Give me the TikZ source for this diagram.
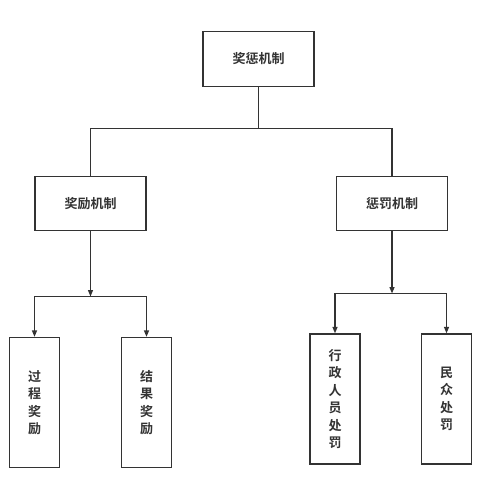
\documentclass[tikz,border=0pt]{standalone}
\usepackage{fontspec}
\newfontfamily\cjk{Noto Sans CJK SC}[BoldFont={Noto Sans CJK SC Bold}]
\usetikzlibrary{arrows.meta,positioning}
\definecolor{linegray}{HTML}{333333}

\tikzset{
  box/.style={draw=linegray, line width=1.3pt, fill=white, text=linegray,
    minimum width=111pt, minimum height=54.5pt, inner sep=0pt,
    font=\cjk\bfseries\fontsize{13}{17.5}\selectfont},
  tallbox/.style={box, minimum width=50pt, minimum height=130pt, align=center},
  link/.style={draw=linegray, line width=1.3pt},
  arrow/.style={link, -{Triangle[length=6.5pt,width=5pt]}}
}

\begin{document}
\begin{tikzpicture}[x=1pt,y=-1pt]
    \useasboundingbox (0,0) rectangle (502,495);

    % top level
    \node[box] (root)   at (258.5,59)  {奖惩机制};
    \node[box] (reward) at (90.5,203.5) {奖励机制};
    \node[box] (punish) at (392,203.5)  {惩罚机制};

    % leaves
    \node[tallbox] (process) at (34.5,402.5) {过\\程\\奖\\励};
    \node[tallbox] (result)  at (146.5,402.5) {结\\果\\奖\\励};
    \node[tallbox] (admin)   at (335,399)    {行\\政\\人\\员\\处\\罚};
    \node[tallbox] (public)  at (446.5,399)  {民\\众\\处\\罚};

    \coordinate (rootsplit)   at (258.5,128.5);
    \coordinate (rewardsplit) at (90.5,296.5);
    \coordinate (punishsplit) at (392,293.5);

    % root to second level
    \draw[link] (root.south) -- (rootsplit);
    \draw[link] (rootsplit) -| (reward.north);
    \draw[link] (rootsplit) -| (punish.north);

    % reward branch
    \draw[arrow] (reward.south) -- (rewardsplit);
    \draw[arrow] (rewardsplit) -| (process.north);
    \draw[arrow] (rewardsplit) -| (result.north);

    % punish branch
    \draw[arrow] (punish.south) -- (punishsplit);
    \draw[arrow] (punishsplit) -| (admin.north);
    \draw[arrow] (punishsplit) -| (public.north);
\end{tikzpicture}
\end{document}
